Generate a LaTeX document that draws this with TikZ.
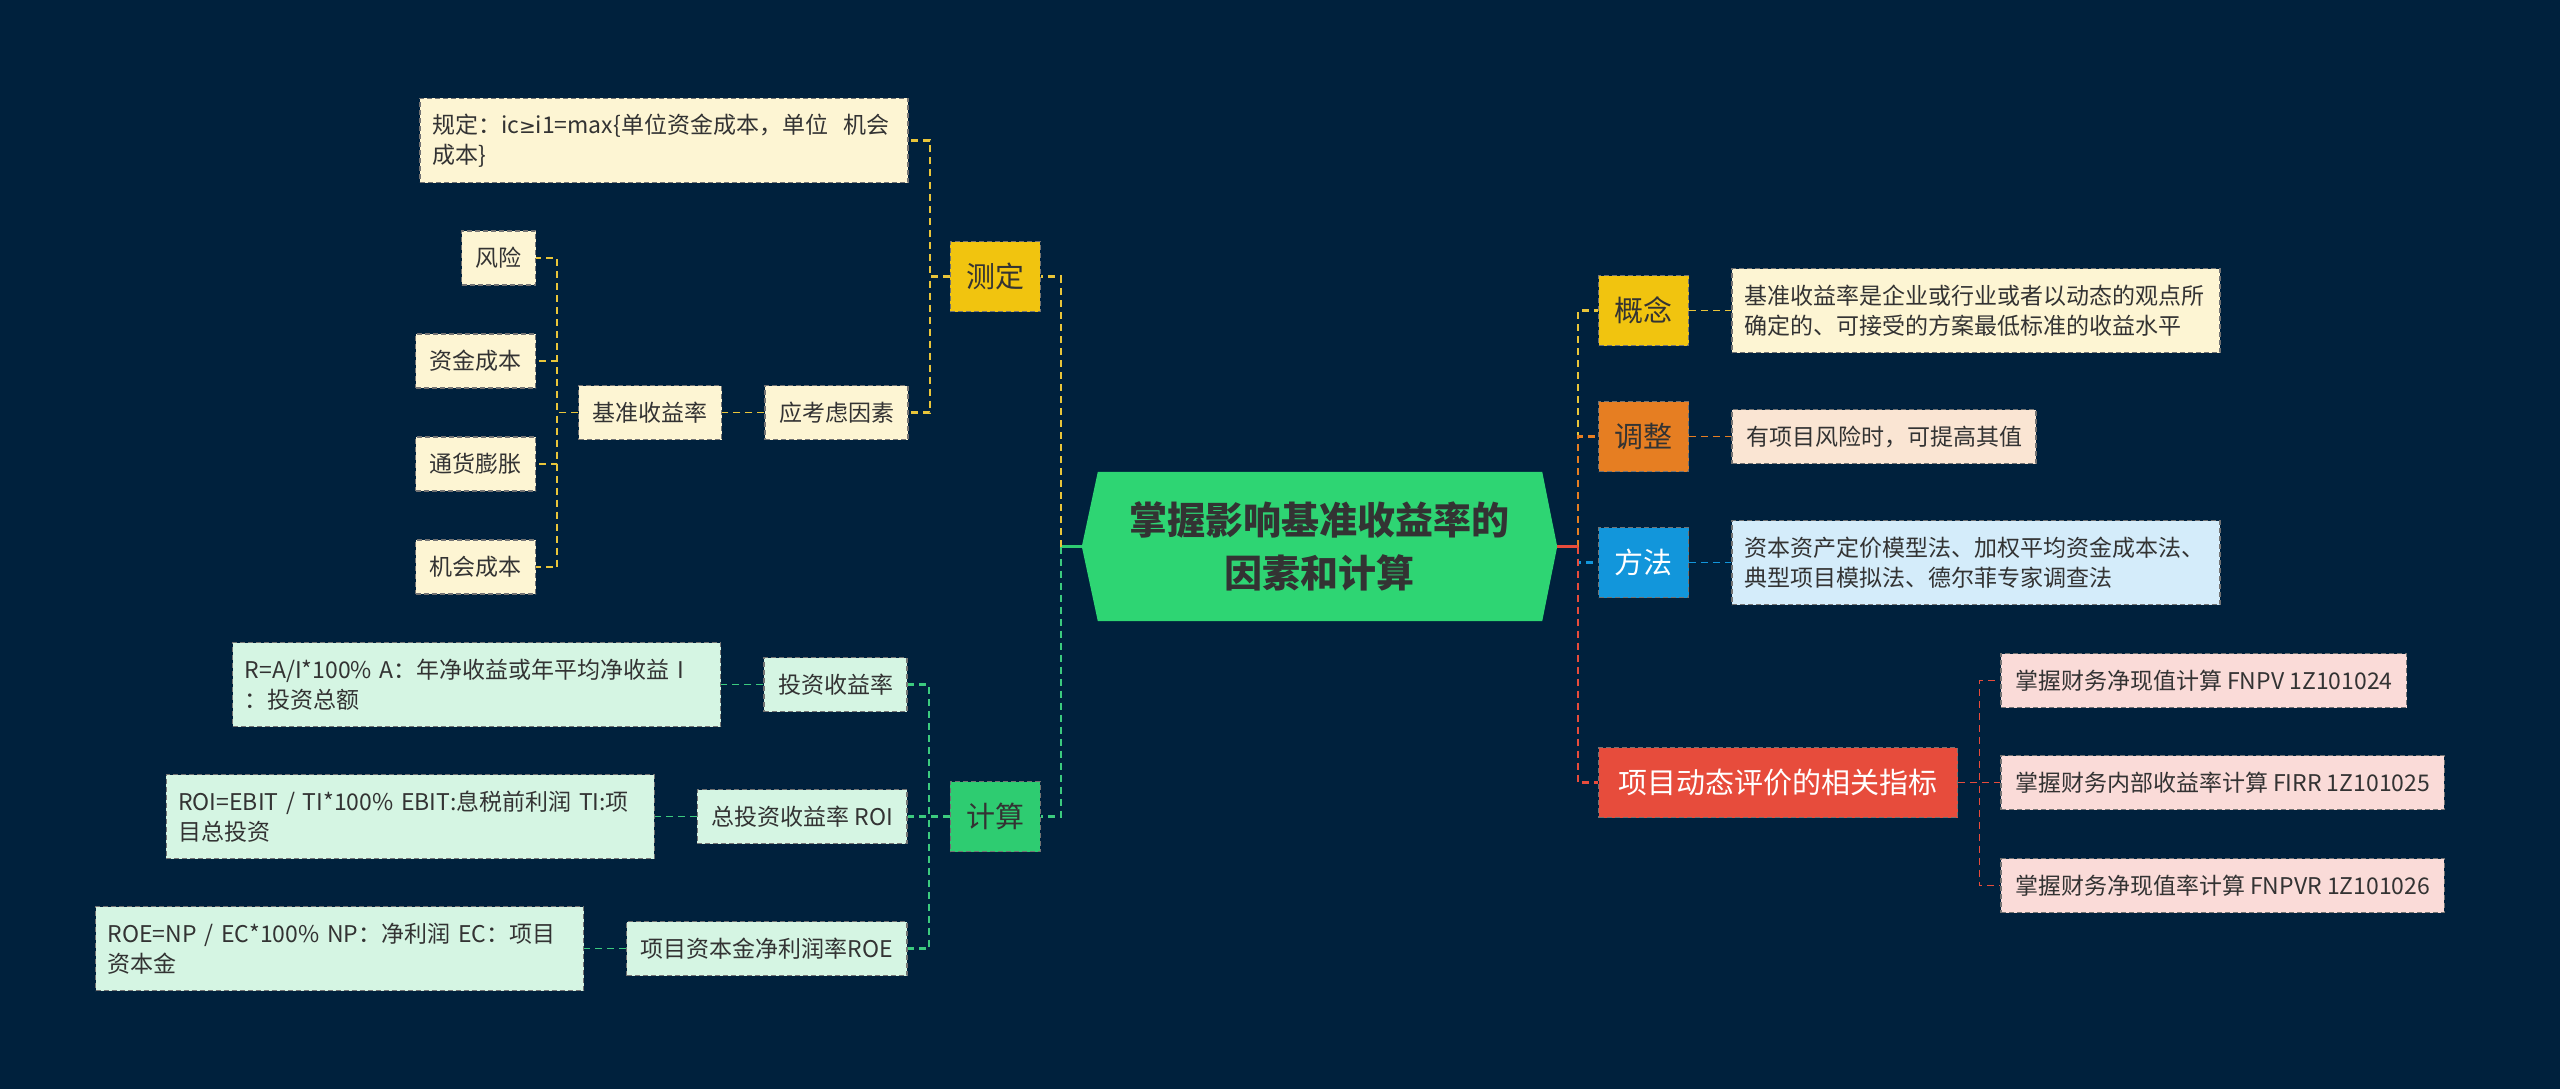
\documentclass[tikz,border=0pt]{standalone}
\usepackage{fontspec}
\setmainfont{Noto Sans CJK SC}
\newfontfamily\latinsym{DejaVu Sans}
\usetikzlibrary{positioning,backgrounds}

\definecolor{bgnavy}{HTML}{00213D}
\definecolor{hexgreen}{HTML}{2ED573}
\definecolor{ink}{HTML}{333333}
\definecolor{gold}{HTML}{F1C40F}
\definecolor{ylw}{HTML}{E9C53A}
\definecolor{calc}{HTML}{2ECC71}
\definecolor{grn}{HTML}{3CCB7F}
\definecolor{orng}{HTML}{E67E22}
\definecolor{blu}{HTML}{1296DB}
\definecolor{rd}{HTML}{E74C3C}
\definecolor{cream}{HTML}{FDF5D3}
\definecolor{mint}{HTML}{D5F5E3}
\definecolor{peach}{HTML}{FAE5D3}
\definecolor{sky}{HTML}{D4ECFA}
\definecolor{pink}{HTML}{FADBD8}

\begin{document}
\begin{tikzpicture}[x=1pt, y=-1pt, node distance=42pt,
  root/.style={align=center, minimum width=475pt, minimum height=149pt, inner sep=0pt,
    text=ink, font=\bfseries\fontsize{38}{53}\selectfont},
  box/.style={draw=black!55, dash pattern=on 5pt off 3pt, line width=1.2pt, text=ink},
  topic/.style={box, minimum height=70pt, inner xsep=16pt, font=\fontsize{29}{34}\selectfont},
  leaf/.style={box, minimum height=54pt, inner xsep=14pt, font=\fontsize{23}{30}\selectfont},
  note/.style={leaf, text width=464pt, align=left, inner xsep=12pt, minimum height=84pt},
  stem/.style={line width=2.5pt},
  link/.style={line width=2.2pt, dash pattern=on 7pt off 5pt},
  twig/.style={line width=1.8pt, dash pattern=on 7pt off 5pt}]
  \useasboundingbox (0,0) rectangle (2560,1089);

  \node[root] (root) at (1319.5,546.5) {掌握影响基准收益率的\\因素和计算};
  \begin{scope}[on background layer]
    \fill[bgnavy] (0,0) rectangle (2560,1089);
    \fill[hexgreen] (root.west) -- ([xshift=16pt]root.north west) -- ([xshift=-15pt]root.north east)
      -- (root.east) -- ([xshift=-15pt]root.south east) -- ([xshift=16pt]root.south west) -- cycle;
  \end{scope}

  % left: 测定
  \node[topic, fill=gold, left=41pt of root, yshift=270pt] (cede) {测定};
  \node[note, fill=cream, left=41pt of cede, yshift=136pt] (guiding) {规定：ic{\latinsym\fontsize{20}{30}\selectfont ≥}i1=max\{单位资金成本，单位\ \ 机会\\成本\}};
  \node[leaf, fill=cream, left=41pt of cede, yshift=-136pt] (yingkao) {应考虑因素};
  \node[leaf, fill=cream, left=of yingkao] (jizhun) {基准收益率};
  \node[leaf, fill=cream, left=of jizhun, yshift=154.5pt] (risk) {风险};
  \node[leaf, fill=cream, left=of jizhun, yshift=51.5pt] (zijin) {资金成本};
  \node[leaf, fill=cream, left=of jizhun, yshift=-51.5pt] (tongzhang) {通货膨胀};
  \node[leaf, fill=cream, left=of jizhun, yshift=-154.5pt] (jihui) {机会成本};

  % left: 计算
  \node[topic, fill=calc, left=41pt of root, yshift=-270pt] (jisuan) {计算};
  \node[leaf, fill=mint, left=of jisuan, yshift=132pt] (touzi) {投资收益率};
  \node[note, fill=mint, left=of touzi] (touziF) {R=A/I*100\% A：年净收益或年平均净收益 I\\：投资总额};
  \node[leaf, fill=mint, left=of jisuan] (roi) {总投资收益率 ROI};
  \node[note, fill=mint, left=of roi] (roiF) {ROI=EBIT / TI*100\% EBIT:息税前利润 TI:项\\目总投资};
  \node[leaf, fill=mint, left=of jisuan, yshift=-132pt] (roe) {项目资本金净利润率ROE};
  \node[note, fill=mint, left=of roe] (roeF) {ROE=NP / EC*100\% NP：净利润 EC：项目\\资本金};

  % right side
  \node[topic, fill=gold, right=41pt of root, yshift=236pt] (gainian) {概念};
  \node[note, fill=cream, right=of gainian] (gainianT) {基准收益率是企业或行业或者以动态的观点所\\确定的、可接受的方案最低标准的收益水平};
  \node[topic, fill=orng, right=41pt of root, yshift=110pt] (tiaozheng) {调整};
  \node[leaf, fill=peach, right=of tiaozheng] (tiaozhengT) {有项目风险时，可提高其值};
  \node[topic, fill=blu, text=white, right=41pt of root, yshift=-16pt] (fangfa) {方法};
  \node[note, fill=sky, right=of fangfa] (fangfaT) {资本资产定价模型法、加权平均资金成本法、\\典型项目模拟法、德尔菲专家调查法};
  \node[topic, fill=rd, text=white, inner xsep=20pt, right=41pt of root, yshift=-236pt] (xiangmu) {项目动态评价的相关指标};
  \node[leaf, fill=pink, right=of xiangmu, yshift=102pt] (fnpv) {掌握财务净现值计算 FNPV 1Z101024};
  \node[leaf, fill=pink, right=of xiangmu] (firr) {掌握财务内部收益率计算 FIRR 1Z101025};
  \node[leaf, fill=pink, right=of xiangmu, yshift=-103pt] (fnpvr) {掌握财务净现值率计算 FNPVR 1Z101026};

  % connectors, left
  \draw[stem, calc] (root.west) -- ++(-21pt,0) coordinate (lt);
  \draw[link, ylw] (lt) |- (cede.east);
  \draw[link, grn] (lt) |- (jisuan.east);
  \draw[link, ylw] (cede.west) -- ++(-20pt,0) |- (guiding.east);
  \draw[link, ylw] (cede.west) -- ++(-20pt,0) |- (yingkao.east);
  \draw[twig, ylw] (yingkao) -- (jizhun);
  \foreach \n in {risk,zijin,tongzhang,jihui}
    \draw[twig, ylw] (jizhun.west) -- ++(-21pt,0) |- (\n.east);
  \foreach \n in {touzi,roi,roe}
    \draw[link, grn] (jisuan.west) -- ++(-21pt,0) |- (\n.east);
  \draw[twig, grn] (touzi) -- (touziF);
  \draw[twig, grn] (roi) -- (roiF);
  \draw[twig, grn] (roe) -- (roeF);

  % connectors, right
  \draw[link, ylw] ([xshift=21pt]root.east) |- (gainian.west);
  \draw[link, orng] ([xshift=21pt]root.east) |- (tiaozheng.west);
  \draw[link, blu] ([xshift=21pt]root.east) |- (fangfa.west);
  \draw[link, rd] ([xshift=21pt]root.east) |- (xiangmu.west);
  \draw[stem, rd] (root.east) -- ++(21pt,0);
  \draw[twig, ylw] (gainian) -- (gainianT);
  \draw[twig, orng] (tiaozheng) -- (tiaozhengT);
  \draw[twig, blu] (fangfa) -- (fangfaT);
  \foreach \n in {fnpv,firr,fnpvr}
    \draw[twig, rd] (xiangmu.east) -- ++(21pt,0) |- (\n.west);
\end{tikzpicture}
\end{document}
